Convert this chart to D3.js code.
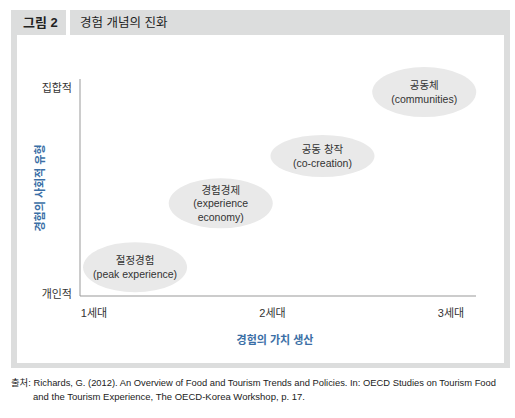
<!DOCTYPE html>
<html>
<head>
<meta charset="utf-8">
<script src="https://cdn.jsdelivr.net/npm/d3@7"></script>
<style>
  body { margin: 0; background: #fff; }
  svg text { font-family: "Liberation Sans", "Noto Sans CJK KR", sans-serif; }
</style>
</head>
<body>
<svg width="515" height="418"></svg>
<script>
// chart data
const genTicks = [1, 2, 3];
const genLabels = ["1세대", "2세대", "3세대"];
const socialTicks = [0, 1];
const socialLabels = ["개인적", "집합적"];

const stagesKo = ["절정경험", "경험경제", "공동 창작", "공동체"];
const stagesEn = [["(peak experience)"], ["(experience", "economy)"], ["(co-creation)"], ["(communities)"]];
const stageGen = [1.23, 1.71, 2.28, 2.85];
const stageSocial = [0.13, 0.44, 0.67, 0.98];

const svg = d3.select("svg");
const blue = "#3b6fa6";
const ink = "#333";

// frame: grey border + header bar
svg.append("rect").attr("x", 11).attr("y", 10).attr("width", 499).attr("height", 358).attr("fill", "#dcdddd");
svg.append("rect").attr("x", 17).attr("y", 35).attr("width", 487).attr("height", 328).attr("fill", "#fff");
svg.append("rect").attr("x", 66).attr("y", 10).attr("width", 4).attr("height", 25).attr("fill", "#fff");

svg.append("text").attr("x", 23).attr("y", 27)
   .attr("font-size", 13).attr("font-weight", "bold").attr("fill", "#222").text("그림 2");
svg.append("text").attr("x", 80).attr("y", 27)
   .attr("font-size", 12.5).attr("fill", "#222").text("경험 개념의 진화");

// scales
const x = d3.scaleLinear().domain([1, 3]).range([94, 451]);
const y = d3.scaleLinear().domain([0, 1]).range([294, 88]);

const axisX0 = 80, axisX1 = 476, axisY0 = 79, axisY1 = 296;

// axis lines
svg.append("line").attr("x1", axisX0).attr("x2", axisX0).attr("y1", axisY0).attr("y2", axisY1)
   .attr("stroke", "#999").attr("stroke-width", 1);
svg.append("line").attr("x1", axisX0).attr("x2", axisX1).attr("y1", axisY1).attr("y2", axisY1)
   .attr("stroke", "#999").attr("stroke-width", 1);

// tick labels
svg.selectAll("text.xt").data(genTicks).enter().append("text")
   .attr("class", "xt")
   .attr("x", d => x(d)).attr("y", 317)
   .attr("text-anchor", "middle").attr("font-size", 11).attr("fill", ink)
   .text((d, i) => genLabels[i]);

svg.selectAll("text.yt").data(socialTicks).enter().append("text")
   .attr("class", "yt")
   .attr("x", 72).attr("y", d => y(d) + 4)
   .attr("text-anchor", "end").attr("font-size", 11).attr("fill", ink)
   .text((d, i) => socialLabels[i]);

// axis titles
svg.append("text").attr("x", 275).attr("y", 344)
   .attr("text-anchor", "middle").attr("font-size", 11).attr("font-weight", "bold").attr("fill", blue)
   .text("경험의 가치 생산");
svg.append("text")
   .attr("transform", "translate(44,188) rotate(-90)")
   .attr("text-anchor", "middle").attr("font-size", 11).attr("font-weight", "bold").attr("fill", blue)
   .text("경험의 사회적 유형");

// stage ellipses
const g = svg.selectAll("g.stage").data(stagesKo).enter().append("g")
   .attr("class", "stage")
   .attr("transform", (d, i) => `translate(${x(stageGen[i])},${y(stageSocial[i])})`);

g.append("ellipse")
   .attr("rx", 52).attr("ry", (d, i) => i === 2 ? 21 : 25)
   .attr("fill", "#e9e9e9");

const lh = 13.5;
g.each(function(d, i){
    const lines = [d].concat(stagesEn[i]);
    const top = -(lines.length - 1) * lh / 2 + 4;
    d3.select(this).selectAll("text").data(lines).enter().append("text")
      .attr("x", 0).attr("y", (t, j) => top + j * lh)
      .attr("text-anchor", "middle").attr("font-size", 10.5).attr("fill", ink)
      .text(t => t);
});

// source note
svg.append("text").attr("x", 11).attr("y", 386)
   .attr("font-size", 9.5).attr("fill", "#222")
   .attr("textLength", 485).attr("lengthAdjust", "spacingAndGlyphs")
   .text("출처: Richards, G. (2012). An Overview of Food and Tourism Trends and Policies. In: OECD Studies on Tourism Food");
svg.append("text").attr("x", 33).attr("y", 400)
   .attr("font-size", 9.5).attr("fill", "#222")
   .attr("textLength", 272).attr("lengthAdjust", "spacingAndGlyphs")
   .text("and the Tourism Experience, The OECD-Korea Workshop, p. 17.");
</script>
</body>
</html>
